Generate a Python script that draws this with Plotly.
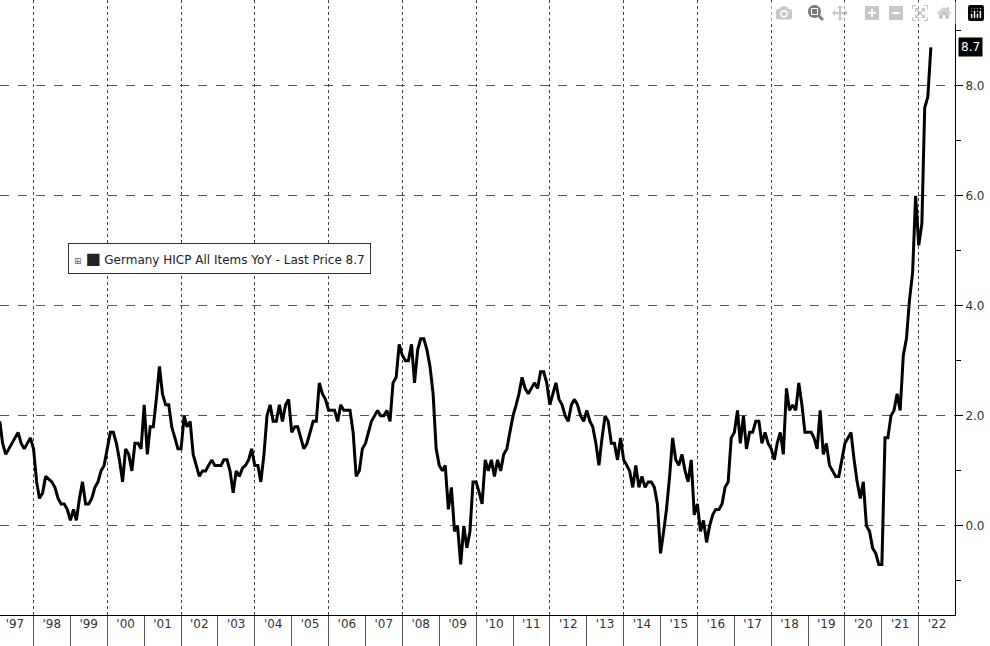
import pandas as pd
import plotly.graph_objects as go

# Germany HICP All Items YoY, monthly from Feb 1997 to May 2022
v1997 = [1.9, 1.5, 1.3, 1.4, 1.5, 1.6, 1.7, 1.5, 1.4, 1.5, 1.6]
v1998 = [1.4, 0.8, 0.5, 0.6, 0.9, 0.85, 0.8, 0.7, 0.5, 0.4, 0.4, 0.3]
v1999 = [0.1, 0.3, 0.1, 0.5, 0.8, 0.4, 0.4, 0.5, 0.7, 0.8, 1.0, 1.1]
v2000 = [1.4, 1.7, 1.7, 1.5, 1.2, 0.8, 1.4, 1.3, 1.0, 1.5, 1.5, 1.4]
v2001 = [2.2, 1.3, 1.8, 1.8, 2.3, 2.9, 2.4, 2.2, 2.2, 1.8, 1.6, 1.4]
v2002 = [1.4, 2.0, 1.8, 1.9, 1.3, 1.1, 0.9, 1.0, 1.0, 1.1, 1.2, 1.1]
v2003 = [1.1, 1.1, 1.2, 1.2, 1.0, 0.6, 1.0, 0.9, 1.05, 1.1, 1.2, 1.4]
v2004 = [1.1, 1.1, 0.8, 1.3, 2.0, 2.2, 1.9, 1.9, 2.2, 1.9, 2.2, 2.3]
v2005 = [1.7, 1.8, 1.8, 1.6, 1.4, 1.5, 1.7, 1.9, 1.9, 2.6, 2.4, 2.3]
v2006 = [2.1, 2.1, 2.1, 1.9, 2.2, 2.1, 2.1, 2.1, 1.7, 0.9, 1.0, 1.4]
v2007 = [1.5, 1.7, 1.9, 2.0, 2.1, 2.0, 2.0, 2.1, 1.9, 2.6, 2.7, 3.3]
v2008 = [3.1, 3.0, 3.0, 3.3, 2.6, 3.2, 3.4, 3.4, 3.2, 2.9, 2.4, 1.4]
v2009 = [1.1, 1.0, 1.1, 0.3, 0.7, -0.1, 0.0, -0.7, 0.0, -0.4, -0.1, 0.8]
v2010 = [0.8, 0.6, 0.4, 1.2, 1.0, 1.2, 0.9, 1.2, 1.0, 1.3, 1.4, 1.7]
v2011 = [2.0, 2.2, 2.4, 2.7, 2.5, 2.4, 2.5, 2.6, 2.5, 2.8, 2.8, 2.6]
v2012 = [2.2, 2.4, 2.6, 2.3, 2.2, 2.0, 1.9, 2.2, 2.3, 2.2, 2.0, 1.9]
v2013 = [2.1, 1.9, 1.8, 1.5, 1.1, 1.6, 2.0, 1.9, 1.5, 1.5, 1.2, 1.6]
v2014 = [1.2, 1.1, 1.0, 0.7, 1.1, 0.7, 0.9, 0.7, 0.8, 0.8, 0.7, 0.4]
v2015 = [-0.5, -0.1, 0.3, 0.9, 1.6, 1.2, 1.1, 1.3, 1.0, 0.8, 1.2, 0.2]
v2016 = [0.4, -0.1, 0.1, -0.3, 0.0, 0.2, 0.3, 0.3, 0.4, 0.7, 0.8, 1.6]
v2017 = [1.7, 2.1, 1.5, 2.0, 1.4, 1.7, 1.7, 1.9, 1.9, 1.5, 1.7, 1.5]
v2018 = [1.4, 1.2, 1.5, 1.7, 1.3, 2.5, 2.1, 2.2, 2.1, 2.6, 2.2, 1.7]
v2019 = [1.7, 1.7, 1.6, 1.4, 2.1, 1.3, 1.5, 1.1, 1.0, 0.9, 0.9, 1.2]
v2020 = [1.5, 1.6, 1.7, 1.2, 0.8, 0.5, 0.8, 0.0, -0.1, -0.4, -0.5, -0.7]
v2021 = [-0.7, 1.6, 1.6, 2.0, 2.1, 2.4, 2.1, 3.1, 3.4, 4.1, 4.6, 6.0]
v2022 = [5.1, 5.5, 7.6, 7.8, 8.7]

values = (v1997 + v1998 + v1999 + v2000 + v2001 + v2002 + v2003 + v2004 + v2005
          + v2006 + v2007 + v2008 + v2009 + v2010 + v2011 + v2012 + v2013 + v2014
          + v2015 + v2016 + v2017 + v2018 + v2019 + v2020 + v2021 + v2022)
dates = pd.date_range("1997-02-01", periods=len(values), freq="MS")

years = list(range(1997, 2023))
year_labels = ["'" + str(y)[2:] for y in years]
last_price = values[-1]
series_name = "Germany HICP All Items YoY - Last Price"

FONT = "DejaVu Sans"
xrange_ = ["1997-02-03", "2022-12-26"]

fig = go.Figure()
fig.add_trace(go.Scatter(x=dates, y=values, mode="lines",
                         line=dict(color="black", width=3), showlegend=False,
                         hoverinfo="skip"))
# invisible anchors for the overlay axes (labels and gridlines)
fig.add_trace(go.Scatter(x=[dates[0]], y=[values[0]], xaxis="x2", mode="lines",
                         line=dict(width=0), showlegend=False, hoverinfo="skip"))
fig.add_trace(go.Scatter(x=[dates[0]], y=[values[0]], xaxis="x3", mode="lines",
                         line=dict(width=0), showlegend=False, hoverinfo="skip"))

fig.update_layout(
    width=990, height=646,
    margin=dict(l=0, r=35, t=0, b=31),
    paper_bgcolor="white", plot_bgcolor="white",
    font=dict(family=FONT, size=12, color="#222"),
    xaxis=dict(  # year separators below the axis
        range=xrange_, type="date", automargin=False,
        tickmode="array",
        tickvals=[pd.Timestamp(f"{y}-01-01") for y in years[1:]],
        ticktext=["" for _ in years[1:]],
        ticks="outside", ticklen=31, tickcolor="#555", tickwidth=1,
        showgrid=False, showline=True, linecolor="black", linewidth=1,
        zeroline=False,
    ),
    xaxis2=dict(  # year labels
        range=xrange_, type="date", overlaying="x", side="bottom",
        automargin=False, tickmode="array",
        tickvals=[pd.Timestamp(f"{y}-07-01") for y in years],
        ticktext=year_labels, ticks="", showgrid=False, showline=False,
        zeroline=False, tickfont=dict(size=12, color="#333"),
    ),
    xaxis3=dict(  # dotted gridlines every two years
        range=xrange_, type="date", overlaying="x", automargin=False,
        tickmode="array",
        tickvals=[pd.Timestamp(f"{y}-01-01") for y in years if y % 2 == 0],
        showgrid=True, gridcolor="#444", griddash="dot", gridwidth=1,
        showticklabels=False, ticks="", showline=False, zeroline=False,
    ),
    yaxis=dict(
        side="right", range=[-1.62, 9.56], automargin=False,
        tickmode="linear", tick0=0, dtick=2, tickformat=".1f",
        ticks="outside", ticklen=7, tickcolor="black",
        showgrid=True, gridcolor="#555", griddash="dash", gridwidth=1,
        showline=True, linecolor="black", linewidth=1,
        zeroline=False, tickfont=dict(size=12, color="#333"),
        minor=dict(tickmode="linear", tick0=1, dtick=2, ticks="outside",
                   ticklen=5, tickcolor="black", showgrid=False),
    ),
)

fig.add_annotation(
    xref="paper", yref="y", x=1.0, y=last_price, xanchor="left", xshift=3,
    text=f"{last_price}", showarrow=False,
    font=dict(color="white", size=12, family=FONT),
    bgcolor="black", borderpad=2,
)
fig.add_annotation(
    xref="paper", yref="paper", x=0.071, y=0.58, xanchor="left", yanchor="middle",
    text=f"<span style='font-size:9px;color:#666'>⊞</span> <span style='font-size:16px'>■</span> {series_name} {last_price}",
    showarrow=False, font=dict(size=12, color="#222", family=FONT),
    bgcolor="white", bordercolor="#333", borderwidth=1, borderpad=5,
)

fig.write_html("out.html", post_script="document.body.style.margin='0';")
